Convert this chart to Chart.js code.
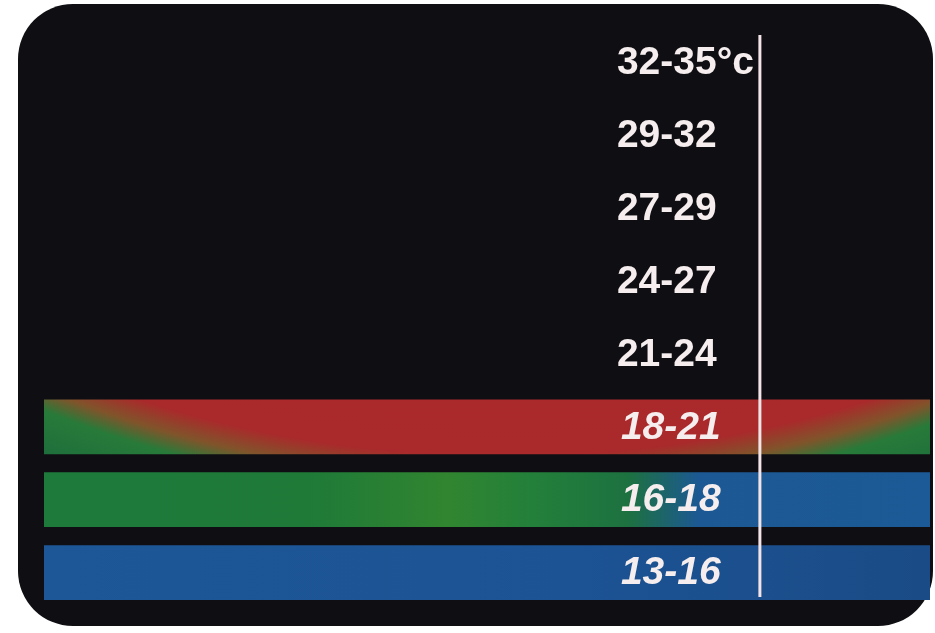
<!DOCTYPE html>
<html>
<head>
<meta charset="utf-8">
<script src="https://cdn.jsdelivr.net/npm/chart.js@4.4.1/dist/chart.umd.min.js"></script>
<style>
  html, body { margin: 0; padding: 0; background: #ffffff; }
  #strip { display: block; }
</style>
</head>
<body>
<canvas id="strip" width="935" height="633"></canvas>
<script>
const bands = ['32-35°c', '29-32', '27-29', '24-27', '21-24', '18-21', '16-18', '13-16'];
// which bands of the strip are lit (1) or dark (0)
const lit = [0, 0, 0, 0, 0, 1, 1, 1];
const dividerAt = 0.808;

const barValues = lit.map(v => v ? [0, 1] : null);

function bandColor(ctx) {
  const chart = ctx.chart;
  const a = chart.chartArea;
  if (!a) return '#1f7f3d';
  const c = chart.ctx;
  const w = a.right - a.left;
  const label = bands[ctx.dataIndex];
  if (label === '18-21') {
    const yc = chart.scales.y.getPixelForValue(ctx.dataIndex);
    const g = c.createRadialGradient(a.left + 0.52 * w, yc - 1180, 0, a.left + 0.52 * w, yc - 1180, 1300);
    g.addColorStop(0, '#b3262d');
    g.addColorStop(0.93, '#aa292b');
    g.addColorStop(0.948, '#80542b');
    g.addColorStop(0.963, '#277a39');
    g.addColorStop(1, '#1c6c3c');
    return g;
  }
  if (label === '16-18') {
    const g = c.createLinearGradient(a.left, 0, a.right, 0);
    g.addColorStop(0, '#1d7a3b');
    g.addColorStop(0.3, '#1f7a38');
    g.addColorStop(0.455, '#318530');
    g.addColorStop(0.55, '#23803a');
    g.addColorStop(0.66, '#1d7140');
    g.addColorStop(0.74, '#1c5894');
    g.addColorStop(1, '#1b5a96');
    return g;
  }
  const g = c.createLinearGradient(a.left, 0, a.right, 0);
  g.addColorStop(0, '#1d5797');
  g.addColorStop(0.6, '#1c5394');
  g.addColorStop(1, '#1a4b86');
  return g;
}

const stripPlugin = {
  id: 'strip',
  beforeDraw(chart) {
    const c = chart.ctx;
    c.save();
    c.fillStyle = '#0f0e13';
    c.beginPath();
    c.roundRect(18, 4, 915, 622, 55);
    c.fill();
    c.restore();
  },
  afterDatasetsDraw(chart) {
    const c = chart.ctx;
    const a = chart.chartArea;
    const x = chart.scales.x.getPixelForValue(dividerAt);
    c.save();
    c.strokeStyle = '#f3e4e8';
    c.lineWidth = 3;
    c.beginPath();
    c.moveTo(x, a.top + 9);
    c.lineTo(x, a.bottom - 12);
    c.stroke();
    c.fillStyle = '#f6eeee';
    c.textAlign = 'left';
    c.textBaseline = 'middle';
    bands.forEach((b, i) => {
      c.font = (lit[i] ? 'italic bold ' : 'bold ') + '39px "Liberation Sans", Arial, sans-serif';
      c.fillText(b, x - 143 + (lit[i] ? 4 : 0), chart.scales.y.getPixelForValue(i) + 1);
    });
    c.restore();
  }
};

new Chart(document.getElementById('strip'), {
  type: 'bar',
  data: {
    labels: bands,
    datasets: [{
      data: barValues,
      backgroundColor: bandColor,
      borderWidth: 0,
      barPercentage: 0.75,
      categoryPercentage: 1
    }]
  },
  options: {
    indexAxis: 'y',
    responsive: false,
    animation: false,
    layout: { padding: { left: 44, right: 5, top: 26, bottom: 24 } },
    plugins: { legend: { display: false }, tooltip: { enabled: false } },
    scales: {
      x: { display: false, min: 0, max: 1 },
      y: { display: false }
    }
  },
  plugins: [stripPlugin]
});
</script>
</body>
</html>
